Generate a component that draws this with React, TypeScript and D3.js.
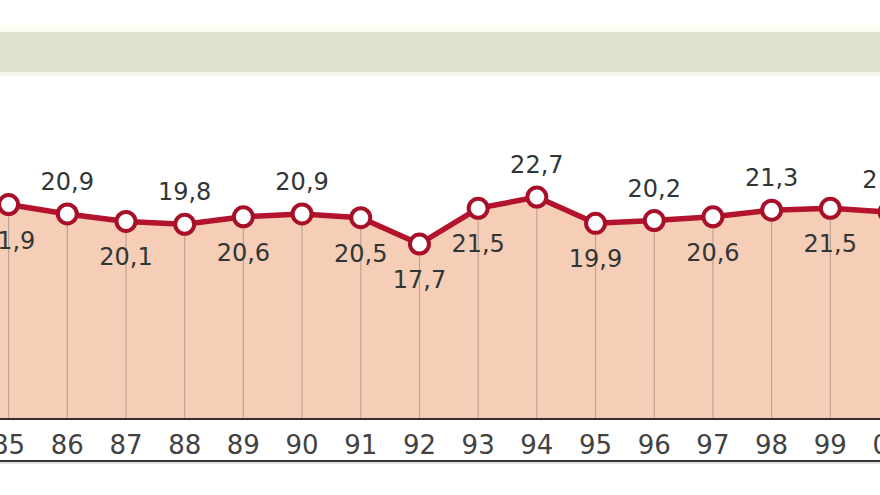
import { useRef, useEffect } from "react";
import * as d3 from "d3";

const years = ["85", "86", "87", "88", "89", "90", "91", "92", "93", "94", "95", "96", "97", "98", "99", "00"];
const values = [21.9, 20.9, 20.1, 19.8, 20.6, 20.9, 20.5, 17.7, 21.5, 22.7, 19.9, 20.2, 20.6, 21.3, 21.5, 21.1];

const W = 880;
const H = 495;

export default function App() {
  const svgRef = useRef<SVGSVGElement>(null);

  useEffect(() => {
    drawChart();
  }, []);

  function drawChart() {
    if (!svgRef.current) return;
    const svg = d3.select(svgRef.current);
    svg.selectAll("*").remove();

    const axisTop = 419;
    const axisBottom = 461;

    const x = d3.scalePoint<string>().domain(years).range([8.6, 889]);
    const y = d3.scaleLinear().domain([0, 25]).range([410.4, 175.4]);

    const data = years.map((yr, i) => ({ yr, v: values[i], i }));
    // labels alternate below/above, except the 92 dip
    const below = (i: number) => i % 2 === 0 || i === 7;

    // top band
    svg.append("rect").attr("x", 0).attr("y", 25).attr("width", W).attr("height", 8).attr("fill", "#fbfbf1");
    svg.append("rect").attr("x", 0).attr("y", 32).attr("width", W).attr("height", 40).attr("fill", "#dfe0cd");
    svg.append("rect").attr("x", 0).attr("y", 72).attr("width", W).attr("height", 4).attr("fill", "#f6f6ec");

    // area fill (carried flat to the left edge)
    const area = d3
      .area<{ yr: string; v: number }>()
      .x((d) => x(d.yr) as number)
      .y0(axisTop)
      .y1((d) => y(d.v));
    svg.append("path").datum(data).attr("d", area).attr("fill", "#f6cdb6");
    svg
      .append("rect")
      .attr("x", 0)
      .attr("y", y(values[0]))
      .attr("width", x(years[0]) as number)
      .attr("height", axisTop - y(values[0]))
      .attr("fill", "#f6cdb6");

    // gridlines
    svg
      .append("g")
      .selectAll("line")
      .data(data)
      .join("line")
      .attr("x1", (d) => x(d.yr) as number)
      .attr("x2", (d) => x(d.yr) as number)
      .attr("y1", (d) => y(d.v))
      .attr("y2", axisTop)
      .attr("stroke", "#b89c8e")
      .attr("stroke-width", 1);

    // axis band
    svg.append("rect").attr("x", 0).attr("y", axisTop).attr("width", W).attr("height", axisBottom - axisTop).attr("fill", "#ffffff");
    svg.append("line").attr("x1", 0).attr("x2", W).attr("y1", axisTop).attr("y2", axisTop).attr("stroke", "#3b2b2b").attr("stroke-width", 2);
    svg.append("line").attr("x1", 0).attr("x2", W).attr("y1", axisBottom).attr("y2", axisBottom).attr("stroke", "#333333").attr("stroke-width", 2);
    svg.append("line").attr("x1", 0).attr("x2", W).attr("y1", axisBottom + 2).attr("y2", axisBottom + 2).attr("stroke", "#d8d8d8").attr("stroke-width", 1.5);

    svg
      .append("g")
      .selectAll("text")
      .data(years)
      .join("text")
      .attr("x", (d) => x(d) as number)
      .attr("y", 454)
      .attr("text-anchor", "middle")
      .attr("font-family", "DejaVu Sans, Verdana, sans-serif")
      .attr("font-size", 26)
      .attr("fill", "#424242")
      .text((d) => d);

    // line
    const line = d3
      .line<{ yr: string; v: number }>()
      .x((d) => x(d.yr) as number)
      .y((d) => y(d.v));
    svg
      .append("path")
      .datum(data)
      .attr("d", line)
      .attr("fill", "none")
      .attr("stroke", "#b3132d")
      .attr("stroke-width", 5.5)
      .attr("stroke-linejoin", "round");

    svg
      .append("g")
      .selectAll("circle")
      .data(data)
      .join("circle")
      .attr("cx", (d) => x(d.yr) as number)
      .attr("cy", (d) => y(d.v))
      .attr("r", 9.5)
      .attr("fill", "#ffffff")
      .attr("stroke", "#a8102a")
      .attr("stroke-width", 4);

    // value labels
    svg
      .append("g")
      .selectAll("text")
      .data(data)
      .join("text")
      .attr("x", (d) => x(d.yr) as number)
      .attr("y", (d) => (below(d.i) ? y(d.v) + 44 : y(d.v) - 24))
      .attr("text-anchor", "middle")
      .attr("font-family", "DejaVu Sans, Verdana, sans-serif")
      .attr("font-size", 24)
      .attr("fill", "#303636")
      .text((d) => d.v.toFixed(1).replace(".", ","));
  }

  return (
    <div style={{ position: "fixed", left: 0, top: 0, width: W, height: H, background: "#ffffff" }}>
      <svg ref={svgRef} width={W} height={H} style={{ display: "block" }} />
    </div>
  );
}
